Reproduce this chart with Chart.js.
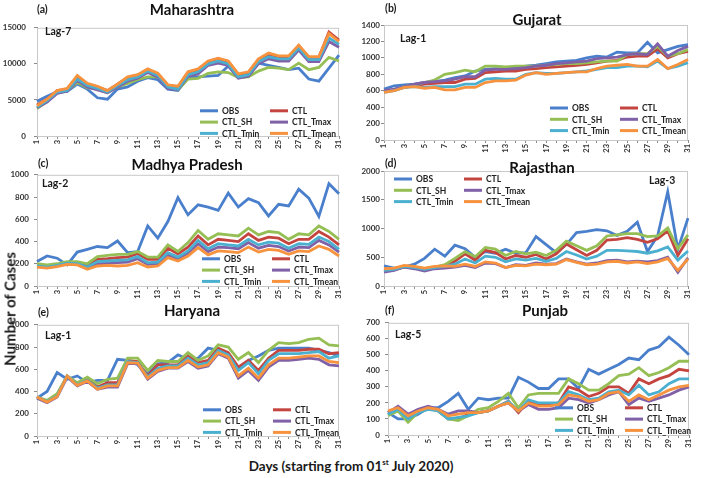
<!DOCTYPE html>
<html>
<head>
<meta charset="utf-8">
<script src="https://cdn.jsdelivr.net/npm/chart.js@4.4.1/dist/chart.umd.min.js"></script>
<style>
  body { margin: 0; background: #fff; width: 709px; height: 478px; position: relative; overflow: hidden; font-family: Lato, "Open Sans", sans-serif; }
  canvas { position: absolute; }
  .txt { position: absolute; font-weight: bold; color: #1a1a1a; white-space: nowrap; line-height: 1; }
  .ttl { font-size: 15px; transform: translateX(-50%); color: #111; }
  .let { font-size: 10.5px; }
  .lag { font-size: 10.5px; }
</style>
</head>
<body>
<script>
// categories
const days = ["1","2","3","4","5","6","7","8","9","10","11","12","13","14","15","16","17","18","19","20","21","22","23","24","25","26","27","28","29","30","31"];
const seriesNames = ["OBS", "CTL", "CTL_SH", "CTL_Tmax", "CTL_Tmin", "CTL_Tmean"];
const seriesColors = ["#4a7fcc", "#c4443f", "#95bf55", "#8060a6", "#4bb0d0", "#f7923f"];

// (a) Maharashtra
const mhObs   = [4800,5500,6100,6200,7200,6500,5300,5100,6500,6800,7600,8100,7800,6500,6300,8100,8200,8300,8400,9700,8100,8500,10100,9800,9500,9200,9400,7900,7600,9400,11200];
const mhCtl   = [4300,5100,6300,6500,8200,7200,6800,6300,7200,8100,8400,9200,8600,7000,6800,8800,9200,10300,10700,10300,8500,8800,10600,11300,11000,11000,12500,10900,10900,14400,13300];
const mhSh    = [3800,4800,6000,6300,7400,6700,6500,6000,6800,7300,7800,8200,8200,6800,6400,7900,8000,8700,8900,8800,8100,8200,9000,9500,9400,9200,10100,9200,9500,10900,10400];
const mhTmax  = [3900,4700,5900,6200,7700,6800,6400,6000,6800,7600,8000,8800,8200,6600,6400,8300,8600,9800,10100,9800,8000,8300,10000,10700,10400,10400,11900,10300,10300,13100,12300];
const mhTmin  = [4000,4900,6100,6300,7900,7000,6600,6100,7000,7800,8200,9000,8400,6800,6500,8500,8900,10000,10400,10000,8200,8500,10300,11000,10700,10700,12200,10600,10600,13600,12700];
const mhTmean = [4200,5100,6300,6600,8400,7300,6900,6300,7200,8200,8500,9300,8700,7100,6900,8900,9300,10400,10800,10400,8600,8900,10700,11500,11100,11100,12600,11000,11000,14200,13100];

// (b) Gujarat
const gjObs   = [620,660,670,680,700,710,730,760,780,840,860,870,870,880,900,910,930,950,960,970,1000,1020,1010,1070,1060,1060,1190,1060,1100,1140,1160];
const gjCtl   = [590,610,640,660,680,690,700,700,740,750,820,830,840,840,860,870,880,890,900,910,920,940,960,970,1010,1020,1020,1110,1000,1050,1080];
const gjSh    = [590,610,650,670,700,730,800,820,850,830,900,900,890,900,900,900,910,920,930,930,940,950,960,960,1040,1050,1050,1140,1020,1050,1100];
const gjTmax  = [600,620,650,680,700,710,720,740,770,770,850,860,860,870,880,900,910,930,940,950,960,990,1000,1010,1040,1050,1040,1170,1020,1090,1140];
const gjTmin  = [580,600,640,650,640,650,650,650,680,680,740,750,740,740,800,820,810,810,820,830,840,860,880,880,900,900,890,960,870,900,940];
const gjTmean = [580,600,640,650,630,640,610,610,640,640,700,720,720,730,790,820,800,810,820,830,830,870,900,910,920,900,900,980,870,920,980];

// (c) Madhya Pradesh
const mpObs   = [220,270,250,190,305,330,355,345,405,300,310,540,430,580,795,640,730,710,680,835,710,785,750,630,735,720,870,790,625,920,830];
const mpCtl   = [190,180,190,210,210,180,240,245,255,260,290,240,240,340,290,350,450,370,420,410,400,470,410,440,430,380,420,420,490,440,370];
const mpSh    = [200,190,200,220,220,200,265,275,285,285,310,260,260,370,310,390,500,420,470,460,450,520,460,490,480,420,470,460,540,490,420];
const mpTmax  = [175,165,180,200,195,160,200,205,210,215,245,195,200,280,245,295,380,310,350,345,335,390,340,365,355,315,350,345,410,370,305];
const mpTmin  = [180,170,185,205,200,170,220,225,230,235,265,210,215,300,260,315,410,335,380,370,360,420,370,395,385,340,380,375,440,400,330];
const mpTmean = [170,160,175,195,190,150,180,185,180,185,210,170,180,255,225,270,345,280,315,310,300,350,305,330,320,285,315,310,360,330,270];

// (d) Rajasthan
const rjObs   = [350,310,330,380,480,640,520,710,650,500,600,570,640,570,580,860,720,580,720,930,950,980,960,880,950,1110,600,870,1640,640,1180];
const rjCtl   = [260,280,330,330,290,320,360,430,560,450,620,580,470,530,500,550,470,560,730,630,530,620,800,810,840,810,760,820,960,530,820];
const rjSh    = [270,290,330,330,300,330,370,480,600,510,670,640,530,600,560,590,530,620,780,700,620,700,870,890,910,910,860,870,1010,650,890];
const rjTmax  = [240,270,330,300,260,300,310,330,360,320,400,390,320,370,360,400,380,390,470,420,380,400,440,450,420,430,420,440,500,240,490];
const rjTmin  = [270,290,340,320,290,320,340,380,470,400,520,500,420,470,450,480,430,480,600,540,470,520,620,620,610,600,570,610,680,450,610];
const rjTmean = [300,310,360,340,310,340,350,340,380,340,420,400,320,360,350,380,370,380,460,410,370,380,420,430,400,420,390,420,480,270,470];

// (e) Haryana
const hrObs   = [340,400,570,510,540,480,500,500,690,680,640,560,650,660,730,690,700,790,770,720,610,680,720,770,790,790,790,790,770,750,720];
const hrCtl   = [350,310,370,540,460,510,440,480,480,680,670,540,640,640,640,720,660,680,790,750,620,680,590,700,770,770,770,780,780,740,750];
const hrSh    = [350,320,380,540,480,530,470,510,520,700,700,590,680,670,670,750,680,720,820,800,690,750,660,770,840,830,840,870,880,820,810];
const hrTmax  = [340,300,350,530,450,490,420,440,440,650,650,510,580,610,610,670,610,630,740,700,520,590,500,620,680,680,690,700,690,640,630];
const hrTmin  = [350,310,360,540,460,500,430,460,460,670,660,530,610,630,630,700,640,660,770,730,590,660,560,680,740,740,740,750,760,700,720];
const hrTmean = [350,305,355,540,455,495,420,450,450,660,655,520,590,615,615,680,620,640,750,710,540,610,520,640,700,700,710,720,720,670,660];

// (f) Punjab
const pbObs   = [140,100,100,130,170,170,210,260,160,230,220,230,230,360,330,290,290,350,350,290,410,380,410,440,480,470,530,550,610,560,500];
const pbCtl   = [140,170,110,150,170,150,100,100,130,140,150,180,210,140,210,190,190,200,300,280,240,260,300,300,260,350,320,350,370,410,400];
const pbSh    = [120,150,80,140,170,150,100,90,120,160,170,210,260,170,250,260,260,260,350,320,280,280,320,370,380,420,370,390,420,460,460];
const pbTmax  = [140,180,130,160,180,160,130,150,150,140,150,180,200,150,190,160,160,170,230,220,200,220,250,270,190,230,210,230,250,280,300];
const pbTmin  = [130,160,100,140,160,150,100,110,120,140,150,180,210,150,220,200,200,200,270,250,220,230,270,280,250,310,250,270,320,350,350];
const pbTmean = [150,170,120,150,170,160,120,130,140,140,150,180,200,150,200,180,180,190,250,240,210,220,260,270,210,250,220,250,280,300,310];

// y axis ranges
const yTicksA = { max: 15000, step: 5000 };
const yTicksB = { max: 1400, step: 200 };
const yTicksC = { max: 1000, step: 200 };
const yTicksD = { max: 2000, step: 500 };
const yTicksE = { max: 1000, step: 200 };
const yTicksF = { max: 700, step: 100 };

const panels = [
  { letter: "(a)", title: "Maharashtra", lag: "Lag-7", series: [mhObs, mhCtl, mhSh, mhTmax, mhTmin, mhTmean], yt: yTicksA,
    plot: { l: 37, t: 21, r: 343, b: 136 }, gap: 8, leg: [163, 83], titleAt: [192, 2], letAt: [37, 4], lagAt: [45, 26] },
  { letter: "(b)", title: "Gujarat", lag: "Lag-1", series: [gjObs, gjCtl, gjSh, gjTmax, gjTmin, gjTmean], yt: yTicksB,
    plot: { l: 384, t: 25, r: 692, b: 140 }, gap: 1, leg: [166, 83], titleAt: [537, 12], letAt: [385, 3], lagAt: [400, 33] },
  { letter: "(c)", title: "Madhya Pradesh", lag: "Lag-2", series: [mpObs, mpCtl, mpSh, mpTmax, mpTmin, mpTmean], yt: yTicksC,
    plot: { l: 37, t: 171, r: 343, b: 286 }, gap: 5, leg: [165, 84], titleAt: [187, 157], letAt: [38, 158], lagAt: [42, 178] },
  { letter: "(d)", title: "Rajasthan", lag: "Lag-3", series: [rjObs, rjCtl, rjSh, rjTmax, rjTmin, rjTmean], yt: yTicksD,
    plot: { l: 384, t: 171, r: 692, b: 286 }, gap: 1, leg: [10, 8], titleAt: [542, 160], letAt: [385, 158], lagAt: [649, 175] },
  { letter: "(e)", title: "Haryana", lag: "Lag-1", series: [hrObs, hrCtl, hrSh, hrTmax, hrTmin, hrTmean], yt: yTicksE,
    plot: { l: 37, t: 321, r: 343, b: 436 }, gap: 5, leg: [166, 85], titleAt: [192, 303], letAt: [38, 307], lagAt: [45, 330] },
  { letter: "(f)", title: "Punjab", lag: "Lag-5", series: [pbObs, pbCtl, pbSh, pbTmax, pbTmin, pbTmean], yt: yTicksF,
    plot: { l: 388, t: 319, r: 693, b: 435 }, gap: 5, leg: [167, 85], titleAt: [545, 303], letAt: [385, 305], lagAt: [395, 329] }
];

// grey frame around the plot area
const plotFrame = {
  id: "plotFrame",
  beforeDatasetsDraw(chart) {
    const a = chart.chartArea, ctx = chart.ctx;
    ctx.save();
    ctx.strokeStyle = "#c9c9c9";
    ctx.lineWidth = 1;
    ctx.strokeRect(a.left + 0.5, a.top + 0.5, a.right - a.left - 1, a.bottom - a.top);
    ctx.restore();
  }
};

// two-column legend drawn inside the plot area
const insideLegend = {
  id: "insideLegend",
  afterDatasetsDraw(chart, args, opts) {
    const a = chart.chartArea, ctx = chart.ctx;
    const x0 = a.left + opts.dx, y0 = a.top + opts.dy;
    ctx.save();
    ctx.font = "bold 8.5px Lato";
    ctx.textBaseline = "middle";
    chart.data.datasets.forEach((ds, i) => {
      const x = x0 + (i % 2) * 70, y = y0 + Math.floor(i / 2) * 11.3;
      ctx.strokeStyle = ds.borderColor;
      ctx.lineWidth = 3;
      ctx.beginPath(); ctx.moveTo(x, y); ctx.lineTo(x + 18, y); ctx.stroke();
      ctx.fillStyle = "#222";
      ctx.fillText(ds.label, x + 22, y + 0.5);
    });
    ctx.restore();
  }
};

function addText(cls, txt, x, y) {
  const d = document.createElement("div");
  d.className = "txt " + cls;
  d.textContent = txt;
  d.style.left = x + "px";
  d.style.top = y + "px";
  document.body.appendChild(d);
}

const yW = 34, topPad = 6, xH = 16, rightPad = 6;

panels.forEach(p => {
  const cv = document.createElement("canvas");
  const w = (p.plot.r - p.plot.l) + yW + rightPad;
  const h = (p.plot.b - p.plot.t) + topPad + xH;
  cv.width = w; cv.height = h;
  cv.style.left = (p.plot.l - yW) + "px";
  cv.style.top = (p.plot.t - topPad) + "px";
  document.body.appendChild(cv);

  new Chart(cv, {
    type: "line",
    data: {
      labels: days,
      datasets: p.series.map((vals, i) => ({
        label: seriesNames[i],
        data: vals,
        borderColor: seriesColors[i],
        backgroundColor: seriesColors[i],
        borderWidth: 2.8,
        pointRadius: 0,
        tension: 0,
        order: 5 - i
      }))
    },
    options: {
      responsive: false,
      animation: false,
      devicePixelRatio: 1,
      layout: { padding: { top: topPad, right: rightPad, left: 0, bottom: 0 } },
      plugins: {
        legend: { display: false },
        tooltip: { enabled: false },
        insideLegend: { dx: p.leg[0], dy: p.leg[1] }
      },
      scales: {
        x: {
          offset: false,
          afterFit: s => { s.height = xH; },
          border: { color: "#8a8a8a" },
          grid: { display: true, drawOnChartArea: false, tickLength: 3, color: "#8a8a8a" },
          ticks: {
            autoSkip: false, maxRotation: 90, minRotation: 90, padding: 1,
            color: "#333", font: { family: "Lato", size: 7.5, weight: "bold" },
            callback: (v, i) => (i % 2 === 0 ? days[i] : "")
          }
        },
        y: {
          min: 0, max: p.yt.max,
          afterFit: s => { s.width = yW; },
          border: { color: "#8a8a8a" },
          grid: { display: true, drawOnChartArea: false, tickLength: 3, color: "#8a8a8a" },
          ticks: {
            stepSize: p.yt.step, padding: p.gap,
            color: "#333", font: { family: "Lato", size: 8, weight: "bold" },
            callback: v => String(v)
          }
        }
      }
    },
    plugins: [plotFrame, insideLegend]
  });

  addText("ttl", p.title, p.titleAt[0], p.titleAt[1]);
  addText("let", p.letter, p.letAt[0], p.letAt[1]);
  addText("lag", p.lag, p.lagAt[0], p.lagAt[1]);
});
</script>
<div class="txt" style="left:10px;top:309px;font-size:15px;transform:translate(-50%,-50%) rotate(-90deg);">Number of Cases</div>
<div class="txt" style="left:351px;top:458px;font-size:13.5px;transform:translateX(-50%);">Days (starting from 01<sup style="font-size:8px">st</sup> July 2020)</div>
</body>
</html>
